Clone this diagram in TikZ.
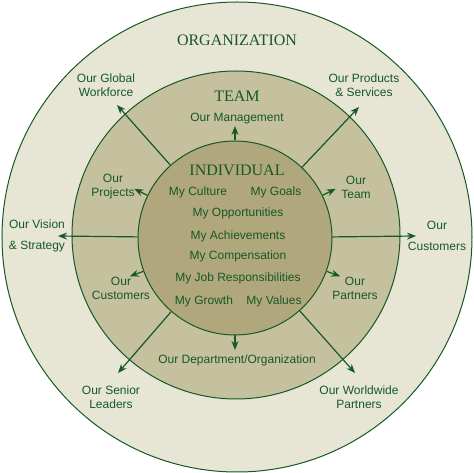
\documentclass[tikz,border=0pt]{standalone}
\usepackage{fontspec}
\setmainfont{Liberation Serif}
\setsansfont{Liberation Sans}
\usetikzlibrary{arrows.meta}
\definecolor{orgring}{RGB}{231,230,212}
\definecolor{teamring}{RGB}{197,193,159}
\definecolor{indfill}{RGB}{176,168,124}
\definecolor{leafgreen}{RGB}{22,88,38}
\tikzset{
	ring/.style={circle, draw=leafgreen, line width=1pt, inner sep=0pt},
	title/.style={text=leafgreen, font=\fontsize{16}{18}\selectfont},
	lbl/.style={text=leafgreen, align=center, inner sep=1pt, font=\sffamily\fontsize{12}{14}\selectfont},
	link/.style={->, draw=leafgreen, line width=1.2pt}
}
\begin{document}
\begin{tikzpicture}[x=1pt,y=1pt,line join=round,>={Stealth[length=9pt,width=7pt]}]
	\useasboundingbox (-237,-236) rectangle (237,237);
	\node[ring, fill=orgring, minimum size=470pt] (org) at (0,0) {};
	\node[ring, fill=teamring, minimum size=328pt] (team) at (-1,2) {};
	\node[ring, fill=indfill, minimum size=194pt] (ind) at (-2,-1) {};
	% long arrows to the organization ring
	\foreach \n/\x/\y in {gw/-120/132, ps/122/130, vs/-179/1, cu/179/1, sl/-119/-136, wp/118/-136}
	{
		\coordinate (\n) at (\x,\y);
		\draw[link] (ind) -- (\n);
	}
	% short arrows to the team ring
	\foreach \n/\a in {mg/90, pj/154, tm/26, oc/200, pt/340, dp/270}
	{
		\path (ind.center) ++(\a:112) coordinate (\n);
		\draw[link] (ind.\a) -- (\n);
	}
	\node[title] (orgname) at (0,197) {ORGANIZATION};
	\node[title] (teamname) at (0,141) {TEAM};
	\node[title] (indname) at (0,67) {INDIVIDUAL};
	\node[lbl] (mgt) at (0,118) {Our Management};
	\node[lbl] (gwt) at (-131,152) {Our Global\\Workforce};
	\node[lbl] (pst) at (127,152) {Our Products\\\& Services};
	\node[lbl] (pjt) at (-124,50) {Our\\Projects};
	\node[lbl] (tmt) at (119,50) {Our\\Team};
	\node[lbl] (vst) at (-200,1) {Our Vision\\[7pt]\& Strategy};
	\node[lbl] (cut) at (200,1) {Our\\[7pt]Customers};
	\node[lbl] (oct) at (-116,-51) {Our\\Customers};
	\node[lbl] (ptt) at (118,-51) {Our\\Partners};
	\node[lbl] (culture) at (-39,45) {My Culture};
	\node[lbl] (goals) at (39,45) {My Goals};
	\node[lbl] (opport) at (1,24) {My Opportunities};
	\node[lbl] (achieve) at (1,1) {My Achievements};
	\node[lbl] (compens) at (1,-19) {My Compensation};
	\node[lbl] (jobresp) at (1,-41) {My Job Responsibilities};
	\node[lbl] (growth) at (-33,-64) {My Growth};
	\node[lbl] (values) at (37,-64) {My Values};
	\node[lbl] (dpt) at (0,-123) {Our Department/Organization};
	\node[lbl] (slt) at (-126,-160) {Our Senior\\Leaders};
	\node[lbl] (wpt) at (122,-160) {Our Worldwide\\Partners};
\end{tikzpicture}
\end{document}
